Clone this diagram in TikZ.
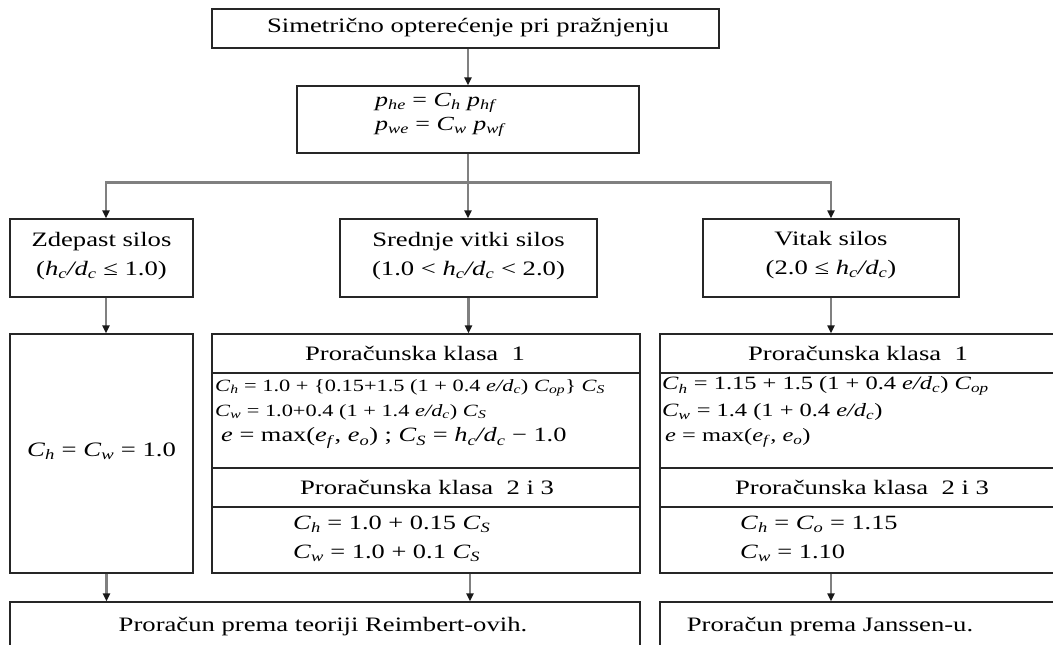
\documentclass[tikz,border=0pt]{standalone}
\usepackage{fontspec}
\setmainfont{Liberation Serif}[FakeStretch=1.3]
\usetikzlibrary{arrows.meta,calc}
\newcommand\V[1]{\textit{#1}}
\newcommand\Sb[1]{\textsubscript{\textit{#1}}}
\newcommand\fs[2]{\fontsize{#1}{#2}\selectfont}
\begin{document}
\begin{tikzpicture}[x=1pt,y=-1pt,
  bx/.style={draw=black!85,line width=1.3pt,inner sep=0pt,rectangle},
  arr/.style={draw=black!50,line width=2.6pt,-{Triangle[length=8pt,width=7pt,color=black!90]}},
  ln/.style={draw=black!50,line width=2.6pt},
  tt/.style={inner sep=0pt,font=\fs{20.5}{29},align=center},
  fm/.style={inner sep=0pt,anchor=west,font=\fs{20}{24}},
  fsm/.style={inner sep=0pt,anchor=west,font=\fs{17.2}{20}}]
\useasboundingbox (0,0) rectangle (1053,645);
\clip (0,0) rectangle (1053,645);
\fill[white] (0,0) rectangle (1053,645);
% boxes
\node[bx,minimum width=507pt,minimum height=39pt] (top) at (465.5,28.5) {};
\node[bx,minimum width=342pt,minimum height=67pt] (eq) at (468,119.5) {};
\node[bx,minimum width=183pt,minimum height=78pt] (z) at (101.5,258) {};
\node[bx,minimum width=257pt,minimum height=78pt] (s) at (468.5,258) {};
\node[bx,minimum width=256pt,minimum height=78pt] (v) at (831,258) {};
\node[bx,minimum width=183pt,minimum height=239pt] (L) at (101.5,453.5) {};
\node[bx,minimum width=428pt,minimum height=39pt] (m1) at (426,353.5) {};
\node[bx,minimum width=428pt,minimum height=95pt] (m2) at (426,420.5) {};
\node[bx,minimum width=428pt,minimum height=39pt] (m3) at (426,487.5) {};
\node[bx,minimum width=428pt,minimum height=66pt] (m4) at (426,540) {};
\node[bx,minimum width=396pt,minimum height=39pt] (r1) at (858,353.5) {};
\node[bx,minimum width=396pt,minimum height=95pt] (r2) at (858,420.5) {};
\node[bx,minimum width=396pt,minimum height=39pt] (r3) at (858,487.5) {};
\node[bx,minimum width=396pt,minimum height=66pt] (r4) at (858,540) {};
\node[bx,minimum width=630pt,minimum height=78pt] (b1) at (325,641) {};
\node[bx,minimum width=396pt,minimum height=78pt] (b2) at (858,641) {};
% texts
\node[tt] (ttop) at (468,28) {Simetrično opterećenje pri pražnjenju};
\node[fm] (eq1) at (375,103) {\V{p}\Sb{he} = \V{C}\Sb{h} \V{p}\Sb{hf}};
\node[fm] (eq2) at (375,127) {\V{p}\Sb{we} = \V{C}\Sb{w} \V{p}\Sb{wf}};
\node[tt] (tz) at (101.5,256) {Zdepast silos\\(\V{h}\Sb{c}\V{/d}\Sb{c} ≤ 1.0)};
\node[tt] (ts) at (468.5,256) {Srednje vitki silos\\(1.0 < \V{h}\Sb{c}\V{/d}\Sb{c} < 2.0)};
\node[tt] (tv) at (831,255) {Vitak silos\\(2.0 ≤ \V{h}\Sb{c}\V{/d}\Sb{c})};
\node[tt] (tL) at (101.5,451) {\V{C}\Sb{h} = \V{C}\Sb{w} = 1.0};
\node[tt] (tm1) at (415,353) {Proračunska klasa\ \ 1};
\node[fsm] (m2a) at (215,388) {\V{C}\Sb{h} = 1.0 + \{0.15+1.5 (1 + 0.4 \V{e/d}\Sb{c}) \V{C}\Sb{op}\} \V{C}\Sb{S}};
\node[fsm] (m2b) at (215,412) {\V{C}\Sb{w} = 1.0+0.4 (1 + 1.4 \V{e/d}\Sb{c}) \V{C}\Sb{S}};
\node[fm,font=\fs{20.3}{24}] (m2c) at (221,438) {\V{e} = max(\V{e}\Sb{f}, \V{e}\Sb{o}) ; \V{C}\Sb{S} = \V{h}\Sb{c}\V{/d}\Sb{c} − 1.0};
\node[tt] (tm3) at (427,487) {Proračunska klasa\ \ 2 i 3};
\node[fm,font=\fs{20.3}{24}] (m4a) at (293,524) {\V{C}\Sb{h} = 1.0 + 0.15 \V{C}\Sb{S}};
\node[fm,font=\fs{20.3}{24}] (m4b) at (293,553) {\V{C}\Sb{w} = 1.0 + 0.1 \V{C}\Sb{S}};
\node[tt] (tr1) at (858,353) {Proračunska klasa\ \ 1};
\node[fm,font=\fs{18.8}{24}] (r2a) at (662,386) {\V{C}\Sb{h} = 1.15 + 1.5 (1 + 0.4 \V{e/d}\Sb{c}) \V{C}\Sb{op}};
\node[fm,font=\fs{18.8}{24}] (r2b) at (662,412) {\V{C}\Sb{w} = 1.4 (1 + 0.4 \V{e/d}\Sb{c})};
\node[fm,font=\fs{18.8}{24}] (r2c) at (665,438) {\V{e} = max(\V{e}\Sb{f}, \V{e}\Sb{o})};
\node[tt] (tr3) at (862,487) {Proračunska klasa\ \ 2 i 3};
\node[fm,font=\fs{20.3}{24}] (r4a) at (740,524) {\V{C}\Sb{h} = \V{C}\Sb{o} = 1.15};
\node[fm,font=\fs{20.3}{24}] (r4b) at (740,553) {\V{C}\Sb{w} = 1.10};
\node[tt] (tb1) at (323,627) {Proračun prema teoriji Reimbert-ovih.};
\node[tt] (tb2) at (830,627) {Proračun prema Janssen-u.};
% connectors
\coordinate (j) at ($(eq.south)+(0,29)$);
\coordinate (zx) at ($(z.north)+(4.5,0)$);
\coordinate (Lx) at ($(L.south)+(5,0)$);
\coordinate (mx) at ($(m4.south)+(44,0)$);
\draw[arr] (eq.north |- top.south) -- (eq.north);
\draw[ln] (eq.south) -- (j);
\draw[arr] (j) -| (zx);
\draw[arr] (j) -- (j |- s.north);
\draw[arr] (j) -| (v.north);
\draw[arr] (zx |- z.south) -- (zx |- L.north);
\draw[arr] (s.south) -- (s.south |- m1.north);
\draw[arr] (v.south) -- (v.south |- r1.north);
\draw[arr] (Lx) -- (Lx |- b1.north);
\draw[arr] (mx) -- (mx |- b1.north);
\draw[arr] (v.south |- r4.south) -- (v.south |- b2.north);
\end{tikzpicture}
\end{document}
